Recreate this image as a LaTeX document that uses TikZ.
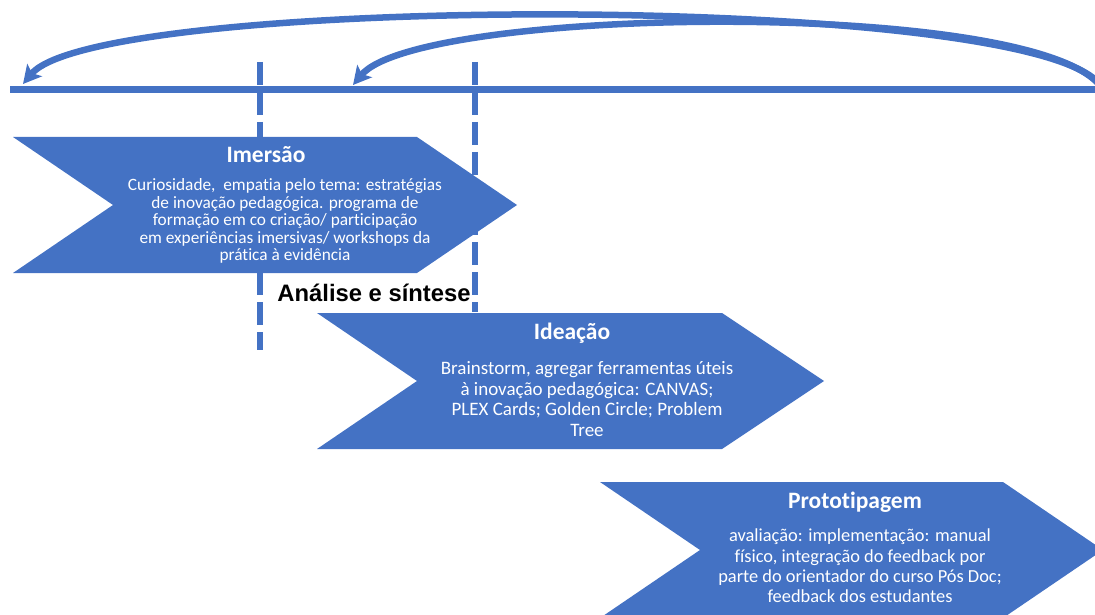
\documentclass[tikz,border=0pt]{standalone}
\usepackage{fontspec}
\setmainfont{Carlito}[Ligatures=NoCommon]
\newfontfamily\labelfont{Liberation Sans}
\usetikzlibrary{arrows.meta}
\definecolor{officeblue}{HTML}{4472C4}
\tikzset{
  phase/.style={fill=officeblue, draw=none},
  phasetitle/.style={text=white, inner sep=0pt, font=\bfseries\fontsize{23.5}{26}\selectfont},
  phasebody/.style={text=white, align=center, inner sep=0pt, font=\fontsize{17.3}{17.5}\selectfont},
  phasebodylarge/.style={phasebody, font=\fontsize{19}{20.5}\selectfont},
  phasebodymid/.style={phasebody, font=\fontsize{18.4}{20.3}\selectfont},
  guide/.style={draw=officeblue, line width=6pt, dash pattern=on 23pt off 7pt},
  axis/.style={draw=officeblue, line width=6.5pt},
  loopback/.style={draw=officeblue, line width=6.5pt, -{Stealth[length=18pt,width=19pt,inset=4pt]}},
}
\begin{document}
\begin{tikzpicture}[x=1pt,y=-1pt]
\useasboundingbox (0,0) rectangle (1095,615);
\clip (0,0) rectangle (1095,615);

% phase boundaries
\draw[guide] (260,62) -- (260,350);
\draw[guide] (475,62) -- (475,312);

% time axis
\coordinate (axisL) at (10,89.5);
\coordinate (axisR) at (1100,89.5);
\draw[axis] (axisL) -- (axisR);

% phase chevrons
\fill[phase] (13,137) -- (417,137) -- (517,205) -- (417,273) -- (13,273) -- (113,205) -- cycle;
\fill[phase] (317,313) -- (722,313) -- (824,381) -- (722,449) -- (317,449) -- (417,381) -- cycle;
\fill[phase] (600,482) -- (1003,482) -- (1103,550) -- (1003,618) -- (600,618) -- (700,550) -- cycle;

% Imersão
\node[phasetitle] (imersaoT) at (266,155) {Imersão};
\node[phasebody] (imersaoB) at (285,221) {Curiosidade,\ \ empatia pelo tema: estratégias\\
de inovação pedagógica. programa de\\
formação em co criação/ participação\\
em experiências imersivas/ workshops da\\
prática à evidência};

% Análise e síntese
\node[inner sep=0pt, font=\labelfont\bfseries\fontsize{23.8}{26}\selectfont] (analise) at (374,293) {Análise e síntese};

% Ideação
\node[phasetitle] (ideacaoT) at (572,333) {Ideação};
\node[phasebodylarge] (ideacaoB) at (587,399) {Brainstorm, agregar ferramentas úteis\\
à inovação pedagógica: CANVAS;\\
PLEX Cards; Golden Circle; Problem\\
Tree};

% Prototipagem
\node[phasetitle] (protoT) at (855,502) {Prototipagem};
\node[phasebodymid] (protoB) at (860,566) {avaliação: implementação: manual\\
físico, integração do feedback por\\
parte do orientador do curso Pós Doc;\\
feedback dos estudantes};

% iteration loops
\coordinate (loopstart) at (1103,90);
\coordinate (backA) at (23,84);
\coordinate (backB) at (353,85);
\draw[loopback] (loopstart) .. controls (1065,-8) and (100,-8) .. (backA);
\draw[loopback] (loopstart) .. controls (1050,-2) and (420,5) .. (backB);
\end{tikzpicture}
\end{document}
